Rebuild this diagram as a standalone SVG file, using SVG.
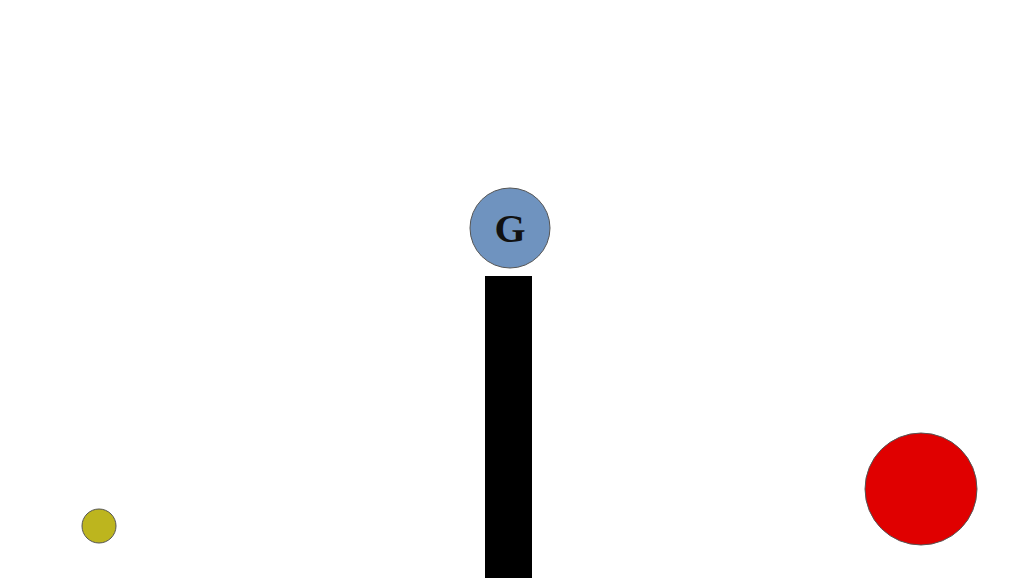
<svg xmlns="http://www.w3.org/2000/svg" width="1018" height="578" viewBox="0 0 1018 578">
<style>
.stroke{stroke:#555;stroke-width:1}
.lbl{font-family:"Liberation Serif",serif;font-weight:bold;font-size:40px;fill:#111}
</style>
<rect width="1018" height="578" fill="#fff"/>
<g id="node-G">
<circle cx="510" cy="228" r="40" fill="#6f93bf" class="stroke"/>
<text x="510" y="242" text-anchor="middle" class="lbl">G</text>
</g>
<g id="bar">
<rect x="485" y="276" width="47" height="302" fill="#000"/>
</g>
<g id="node-yellow">
<circle cx="99" cy="526" r="17" fill="#bdb51e" class="stroke"/>
</g>
<g id="node-red">
<circle cx="921" cy="489" r="56" fill="#e00000" class="stroke"/>
</g>
<g id="connectors"></g>
</svg>
